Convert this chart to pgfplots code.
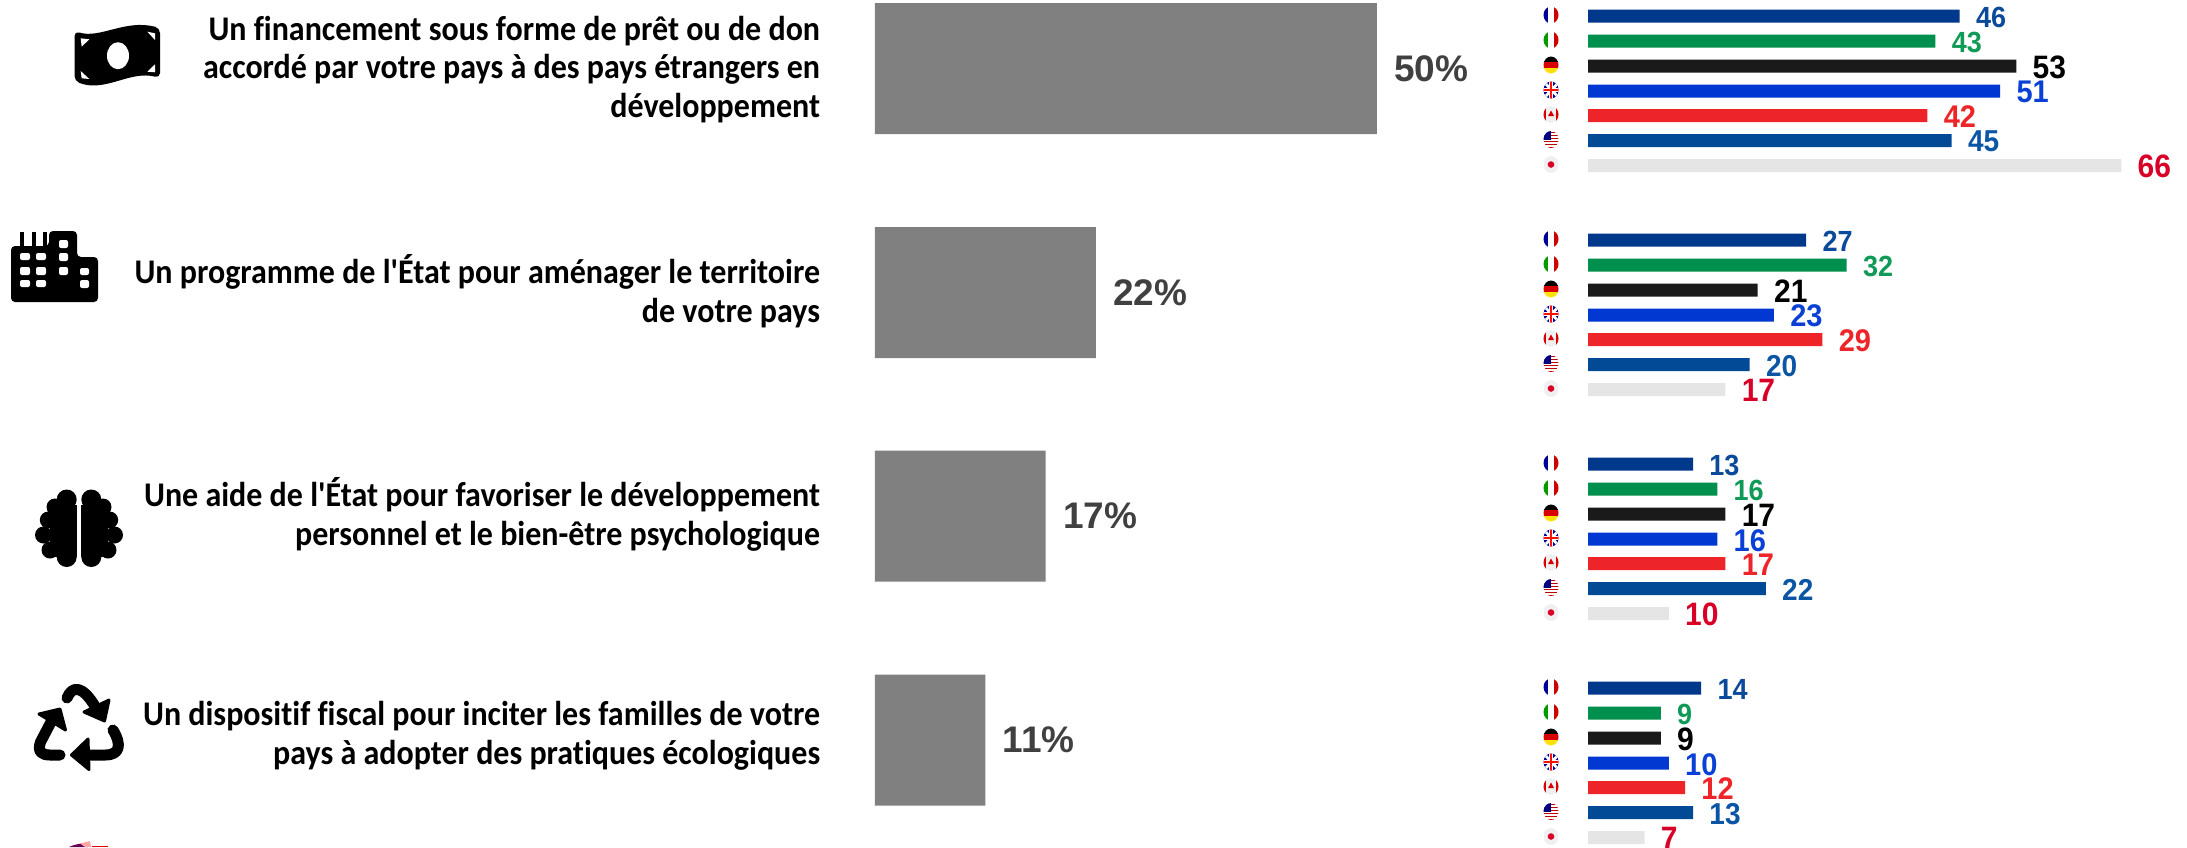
\documentclass[border=0pt]{standalone}
\usepackage{pgfplots}
\usepackage{fontspec}
\pgfplotsset{compat=1.18}
\setmainfont{Carlito}[Ligatures={TeXOff,NoCommon}]
\newfontfamily\lib{Liberation Sans}
\definecolor{cFR}{HTML}{00388C}\definecolor{lFR}{HTML}{0B4A9B}
\definecolor{cIT}{HTML}{008F4C}\definecolor{lIT}{HTML}{0F9A55}
\definecolor{cDE}{HTML}{1A1A1A}\definecolor{lDE}{HTML}{000000}
\definecolor{cUK}{HTML}{0038D1}\definecolor{lUK}{HTML}{0A40D6}
\definecolor{cCA}{HTML}{EE2528}\definecolor{lCA}{HTML}{EE2528}
\definecolor{cUS}{HTML}{034A96}\definecolor{lUS}{HTML}{0B55A5}
\definecolor{cJP}{HTML}{E5E5E5}\definecolor{lJP}{HTML}{D80027}
\pgfplotsset{
  canvas/.style={at={(0pt,0pt)},anchor=north west,scale only axis,width=1093.5pt,height=423.5pt,
    axis lines=none,ticks=none,y dir=reverse,ymin=0,ymax=847,clip=false,
    /pgf/number format/assume math mode=true,
    xbar,point meta=x,nodes near coords},
  ctry/.style n args={3}{draw=none,fill=#1,bar width=6.5pt,bar shift=0pt,forget plot,
    nodes near coords style={text=#2,anchor=west,inner sep=0pt,xshift=8pt,yshift=-0.6pt,
      transform shape,yscale=1.08,
      font=\lib\bfseries\fontsize{#3}{#3}\selectfont}},
}
\newcommand{\flags}[1]{%
 \begin{scope}[shift={(0,#1)}]
 \begin{scope}\clip (1551,0) ellipse (7.5 and 8.5);
  \fill[blue!60!black] (1543,-9) rectangle (1548,9);\fill[white] (1548,-9) rectangle (1554,9);\fill[red!80!black] (1554,-9) rectangle (1560,9);\end{scope}
 \begin{scope}[yshift=-25*0.5pt]\clip (1551,0) ellipse (7.5 and 8.5);
  \fill[green!60!black] (1543,-9) rectangle (1548,9);\fill[white] (1548,-9) rectangle (1554,9);\fill[red!80!black] (1554,-9) rectangle (1560,9);\end{scope}
 \begin{scope}[yshift=-50*0.5pt]\clip (1551,0) ellipse (7.5 and 8.5);
  \fill[black] (1543,-9) rectangle (1560,-3);\fill[red!85!black] (1543,-3) rectangle (1560,3);\fill[yellow!85!orange] (1543,3) rectangle (1560,9);\end{scope}
 \begin{scope}[yshift=-75*0.5pt]\clip (1551,0) ellipse (7.5 and 8.5);
  \fill[blue!55!black] (1543,-9) rectangle (1560,9);
  \draw[white,line width=1.4pt] (1543,-9)--(1560,9) (1543,9)--(1560,-9);
  \draw[white,line width=2pt] (1551,-9)--(1551,9) (1543,0)--(1560,0);
  \draw[red!85!orange,line width=1pt] (1551,-9)--(1551,9) (1543,0)--(1560,0);\end{scope}
 \begin{scope}[yshift=-99.5*0.5pt]\clip (1551,0) ellipse (7.5 and 8.5);
  \fill[gray!12] (1543,-9) rectangle (1560,9);\fill[red!85!black] (1543,-9) rectangle (1546,9);\fill[red!85!black] (1556,-9) rectangle (1560,9);
  \fill[red!85!black] (1551,-4) -- (1554,1.5) -- (1548,1.5) -- cycle;\end{scope}
 \begin{scope}[yshift=-124.5*0.5pt]\clip (1551,0) ellipse (7.5 and 8.5);
  \fill[white] (1543,-9) rectangle (1560,9);
  \foreach \k in {-8,-5,...,7}{\fill[red!75!black] (1543,\k) rectangle (1560,\k+1.5);}
  \fill[blue!50!black] (1543,-9) rectangle (1551,0);\end{scope}
 \begin{scope}[yshift=-149.5*0.5pt]
  \fill[gray!12] (1551,0) ellipse (7.5 and 8.5);\fill[lJP] (1551,0) circle (3.3);\end{scope}
 \end{scope}}
\begin{document}
\begin{tikzpicture}[x=0.5pt,y=-0.5pt]
\path[use as bounding box] (0,0) rectangle (2187,847);
\begin{scope}
\clip (0,0) rectangle (2187,847);
% main bars : 10.04 px per point, zero at px 875
\begin{axis}[canvas,xmin=-87.15,xmax=130.68,
  nodes near coords={\pgfmathprintnumber{\pgfplotspointmeta}\%},
  nodes near coords style={text=black!75,anchor=west,inner sep=0pt,xshift=8.5pt,
    font=\lib\bfseries\fontsize{18.5pt}{18.5pt}\selectfont}]
\addplot[draw=none,fill=black!50,bar width=65.5pt,bar shift=0pt,forget plot] coordinates {(50,68.5) (22,292.5) (17,516) (11,740)};
\end{axis}
% country bars : 8.08 px per point, zero at px 1588
\begin{axis}[canvas,xmin=-196.53,xmax=74.13]
\addplot[ctry={cFR}{lFR}{13.5pt}] coordinates {(46,16) (27,240) (13,464) (14,688)};
\addplot[ctry={cIT}{lIT}{13.5pt}] coordinates {(43,41) (32,265) (16,489) (9,713)};
\addplot[ctry={cDE}{lDE}{15pt}] coordinates {(53,66) (21,290) (17,514) (9,738)};
\addplot[ctry={cUK}{lUK}{14.5pt}] coordinates {(51,91) (23,315) (16,539) (10,763)};
\addplot[ctry={cCA}{lCA}{14.5pt}] coordinates {(42,115.5) (29,339.5) (17,563.5) (12,787.5)};
\addplot[ctry={cUS}{lUS}{14pt}] coordinates {(45,140.5) (20,364.5) (22,588.5) (13,812.5)};
\addplot[ctry={cJP}{lJP}{15pt}] coordinates {(66,165.5) (17,389.5) (10,613.5) (7,837.5)};
\end{axis}
\foreach \b in {15,239,463,687}{\flags{\b}}
% question texts
\tikzset{q/.style={anchor=east,align=right,inner sep=0pt,transform shape,yscale=1.08,font=\bfseries\fontsize{16pt}{18pt}\selectfont}}
\node[q] at (820.5,69.5) {Un financement sous forme de prêt ou de don\\accordé par votre pays à des pays étrangers en\\développement};
\node[q] at (820.5,291) {Un programme de l'État pour aménager le territoire\\de votre pays};
\node[q] at (820.5,514) {Une aide de l'État pour favoriser le développement\\personnel et le bien-être psychologique};
\node[q] at (820.5,736) {Un dispositif fiscal pour inciter les familles de votre\\pays à adopter des pratiques écologiques};
% banknote icon
\fill[black,rounded corners=2.5pt] (74.5,31) .. controls (100,39) and (125,19) .. (160,28) -- (160,78) .. controls (130,70) and (105,93) .. (74.5,81) -- cycle;
\fill[white] (118,55.7) ellipse (11 and 13.5);
\fill[white] (80.7,38.3) -- (89.3,39.3) -- (81.7,46.7) -- cycle;
\fill[white] (147.3,31.7) -- (155,33.3) -- (155,40) -- cycle;
\fill[white] (80.7,71) -- (89.3,79) -- (81.7,78.3) -- cycle;
\fill[white] (147.3,71.7) -- (155,64.3) -- (155,72.3) -- cycle;
% factory icon
\fill[black,rounded corners=2pt] (11,246) -- (49,246) -- (49,231) -- (77,231) -- (77,257) -- (98,257) -- (98,302) -- (11,302) -- cycle;
\fill[black] (20,232) rectangle (24,247);
\fill[black] (32,232) rectangle (36,247);
\fill[black] (43,232) rectangle (47,247);
\foreach \xa/\ya/\xb/\yb in {20/253/30/260,36/253/46/260,20/267/30/275,36/267/46/275,20/280/30/287,36/280/46/287,59/240/68/248,59/253/68/261,59/267/68/275,80/268/89/275,80/280/89/288}{
  \fill[white,rounded corners=1pt] (\xa,\ya) rectangle (\xb,\yb);}
% brain icon
\foreach \m/\s in {0/1,158/-1}{
 \begin{scope}[shift={(\m,0)},xscale=\s]
 \foreach \cx/\cy/\r in {66.7/499.5/10,66.7/557/10,55/507/8.5,48.3/520/8.5,43.5/535/8.5,50/550/8.5}{
   \fill[black] (\cx,\cy) circle (\r);}
 \fill[black] (50,505) rectangle (76.7,557);
 \end{scope}}
% recycling icon
\tikzset{rc/.style={black,line width=5.5pt,line cap=round,line join=round}}
\tikzset{rh/.style={fill=black,draw=black,line width=1.5pt,line join=round}}
\draw[rc] (67,698) .. controls (72,686) and (82,684) .. (96,708);
\filldraw[rh] (109,700) -- (104.5,721) -- (84,712) -- cycle;
\draw[rc] (51,722) -- (40.5,742) .. controls (37,752) and (42,755) .. (50,755) -- (60,755);
\filldraw[rh] (39,714) -- (60,709) -- (65.5,730) -- cycle;
\draw[rc] (86,755) -- (105,755) .. controls (120,755) and (122,745) .. (113,730);
\filldraw[rh] (71.5,755) -- (88,739) -- (89,769.5) -- cycle;
% top of the next row's icon
\fill[black!45!blue!60!red] (69,847) .. controls (75,844) and (83,843) .. (88,843) -- (88,847) -- cycle;
\fill[red!35] (80,843.5) -- (90,841) -- (91,847) -- (85,847) -- cycle;
\fill[red!85!black] (92,845.5) rectangle (108,847);
\end{scope}
\end{tikzpicture}
\end{document}
